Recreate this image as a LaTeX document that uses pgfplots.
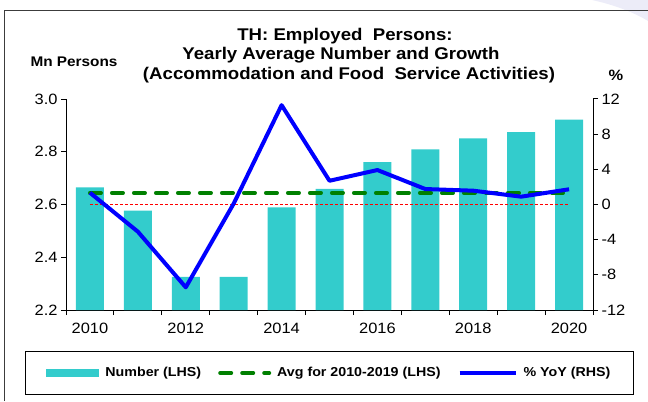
\documentclass[border=0pt]{standalone}
\usepackage{fontspec}
\setmainfont{Liberation Sans}[FakeStretch=1.1]
\usepackage{pgfplots}
\usepackage{pgfplotstable}
\pgfplotsset{compat=1.18}
\definecolor{barcyan}{RGB}{51,204,204}
\definecolor{avggreen}{RGB}{0,128,0}
\definecolor{yoyblue}{RGB}{0,0,255}
\definecolor{framegray}{RGB}{60,60,60}
\definecolor{lavender}{RGB}{236,236,248}

\pgfplotstableread{
x year num yoy
0 2010 2.665 1.34
1 2011 2.577 -3.09
2 2012 2.326 -9.42
3 2013 2.326 0.10
4 2014 2.589 11.30
5 2015 2.659 2.70
6 2016 2.761 3.92
7 2017 2.809 1.76
8 2018 2.851 1.57
9 2019 2.874 0.89
10 2020 2.922 1.73
}\datatable

\pgfplotsset{
  common/.style={
    at={(66bp,91bp)}, anchor=south west,
    width=527bp, height=211bp, scale only axis,
    xmin=-0.5, xmax=10.5,
    axis line style={line width=1bp, black},
    every tick/.style={black, line width=1bp},
    major tick length=5bp,
    tick align=outside,
    /pgf/number format/assume math mode=true,
    tick label style={font=\fontsize{15}{15}\selectfont},
  }
}

\begin{document}
\begin{tikzpicture}[x=1bp,y=1bp]
\useasboundingbox (0,0) rectangle (648,401);
\fill[lavender] (592,401) .. controls (615,396) and (635,388) .. (648,380) -- (648,401) -- cycle;
\draw[framegray, line width=1bp] (4.5,0) -- (4.5,390.5) -- (648,390.5);

\node[anchor=base, font=\bfseries\fontsize{17}{17}\selectfont] at (345,361) {TH: Employed\ \ Persons:};
\node[anchor=base, font=\bfseries\fontsize{17}{17}\selectfont] at (341,342) {Yearly Average Number and Growth};
\node[anchor=base, font=\bfseries\fontsize{17}{17}\selectfont] at (349,322) {(Accommodation and Food\ \ Service Activities)};
\node[anchor=base west, font=\bfseries\fontsize{14}{14}\selectfont] at (27,335) {Mn Persons};
\node[anchor=base, font=\bfseries\fontsize{15}{15}\selectfont] at (616,321) {\%};

\begin{axis}[
  common,
  ymin=2.2, ymax=3.0,
  axis x line*=bottom, axis y line*=left,
  xtick={-0.5,0.5,...,10.5}, xticklabels={},
  extra x ticks={0,2,4,6,8,10},
  extra x tick labels={2010,2012,2014,2016,2018,2020},
  extra x tick style={major tick length=0bp, xticklabel style={yshift=-10bp}},
  ytick={2.2,2.4,2.6,2.8,3.0},
  yticklabel style={/pgf/number format/.cd, fixed, fixed zerofill, precision=1},
  legend columns=3,
  legend cell align=left,
  legend style={at={(0.4998,-0.2986)}, anchor=center, draw=black, line width=1bp,
    font=\bfseries\fontsize{13}{13}\selectfont,
    inner xsep=21bp, inner ysep=14bp,
    /tikz/every odd column/.append style={column sep=4bp},
    /tikz/every even column/.append style={column sep=15bp}},
]
\addplot[ybar, bar width=28bp, fill=barcyan, draw=none,
  legend image code/.code={\fill[barcyan] (0bp,-4bp) rectangle (53bp,4bp);}]
  table[x=x, y=num] {\datatable};
\addlegendentry{Number (LHS)}
\addplot[red, line width=1bp, dash pattern=on 3bp off 2bp, forget plot]
  coordinates {(0,2.6) (10,2.6)};
\addplot[avggreen, line width=4bp, dash pattern=on 11bp off 11bp, line cap=round,
  legend image code/.code={\draw (2bp,0bp) -- (51bp,0bp);}]
  coordinates {(0,2.644) (10,2.644)};
\addlegendentry{Avg for 2010-2019 (LHS)}
\addlegendimage{yoyblue, line width=4bp, legend image code/.code={\draw (0bp,0bp) -- (56bp,0bp);}}
\addlegendentry{\% YoY (RHS)}
\end{axis}

\begin{axis}[
  common,
  ymin=-12, ymax=12,
  axis x line=none, axis y line*=right,
  ytick={-12,-8,-4,0,4,8,12},
]
\addplot[yoyblue, line width=4bp, line join=round] table[x=x, y=yoy] {\datatable};
\end{axis}
\end{tikzpicture}
\end{document}
